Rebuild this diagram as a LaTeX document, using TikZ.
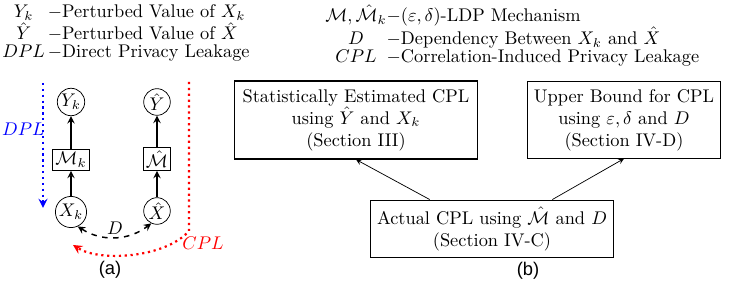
\documentclass[tikz,border=0pt]{standalone}
\usepackage{amsmath, amssymb}
\usepackage{fontspec}
\newfontfamily\capfont{Liberation Sans}
\usepackage{tikz}
\usetikzlibrary{calc, shapes.geometric, positioning}

\begin{document}
\begin{tikzpicture}[>=stealth, x=0.545pt, y=0.545pt,
    var/.style={circle, draw, minimum size=14.5pt, inner sep=0.5pt},
    mech/.style={draw, inner sep=1.5pt},
    blk/.style={draw, semithick, align=center, minimum width=132pt},
    flow/.style={->, thick}]
    \useasboundingbox (0,0) rectangle (732,-285);

    % Chú thích các ký hiệu
    \node[anchor=north west, inner sep=0pt] (keyL) at (2,-4) {\renewcommand{\arraystretch}{0.8}\begin{tabular}{@{}c@{\,}l@{}}
        $Y_k$ & $-$Perturbed Value of $X_k$\\
        $\hat{Y}$ & $-$Perturbed Value of $\hat{X}$\\
        $DPL$ & $-$Direct Privacy Leakage
    \end{tabular}};
    \node[anchor=north west, inner sep=0pt] (keyR) at (325,-4) {\renewcommand{\arraystretch}{0.8}\begin{tabular}{@{}c@{}l@{}}
        $\mathcal{M},\hat{\mathcal{M}}_k$ & $-(\varepsilon,\delta)$-LDP Mechanism\\
        $D$ & $-$Dependency Between $X_k$ and $\hat{X}$\\
        $CPL$ & $-$Correlation-Induced Privacy Leakage
    \end{tabular}};

    % Hình (a): hai nhánh dữ liệu
    \node[var] (Xk) at (71,-212) {$X_k$};
    \node[mech] (Mk) at (71,-160) {$\mathcal{M}_k$};
    \node[var] (Yk) at (71,-102) {$Y_k$};
    \node[var] (Xh) at (157,-211) {$\hat{X}$};
    \node[mech] (Mh) at (157,-159) {$\hat{\mathcal{M}}$};
    \node[var] (Yh) at (157,-102) {$\hat{Y}$};
    \draw[flow] (Xk) -- (Mk);
    \draw[flow] (Mk) -- (Yk);
    \draw[flow] (Xh) -- (Mh);
    \draw[flow] (Mh) -- (Yh);
    \draw[<->, thick, dashed] (Xk.-65) to[bend right=35] node[above, inner sep=1pt] {$D$} (Xh.-115);

    % Rò rỉ trực tiếp và rò rỉ do tương quan
    \coordinate (dplA) at (43,-83);
    \coordinate (dplB) at (43,-208);
    \draw[blue, very thick, dotted, ->] (dplA) -- (dplB);
    \node[blue, anchor=east, inner sep=0pt] (dpl) at (45,-129) {$DPL$};
    \coordinate (cplA) at (189,-82);
    \coordinate (cplB) at (189,-231);
    \coordinate (cplC) at (73,-245);
    \draw[red, very thick, dotted, ->] (cplA) -- (cplB) .. controls (165,-258) and (100,-262) .. (cplC);
    \node[red, anchor=west, inner sep=0pt] (cpl) at (182,-243) {$CPL$};
    \node (capA) at (110,-270) {\capfont (a)};

    % Hình (b): các cách đánh giá CPL
    \node[blk, minimum height=42.5pt] (est) at (356,-120) {Statistically Estimated CPL\\ using $\hat{Y}$ and $X_k$\\ (Section III)};
    \node[blk, minimum width=100pt, minimum height=41.5pt] (ub) at (624,-120) {Upper Bound for CPL\\ using $\varepsilon,\delta$ and $D$\\ (Section IV-D)};
    \node[blk, minimum height=31.5pt] (act) at (492,-229) {Actual CPL using $\hat{\mathcal{M}}$ and $D$\\ (Section IV-C)};
    \draw[->] ($(act.north west)!0.244!(act.north east)$) -- (est.south);
    \draw[->] ($(act.north west)!0.748!(act.north east)$) -- (ub.south);
    \node (capB) at (528,-271) {\capfont (b)};
\end{tikzpicture}
\end{document}
